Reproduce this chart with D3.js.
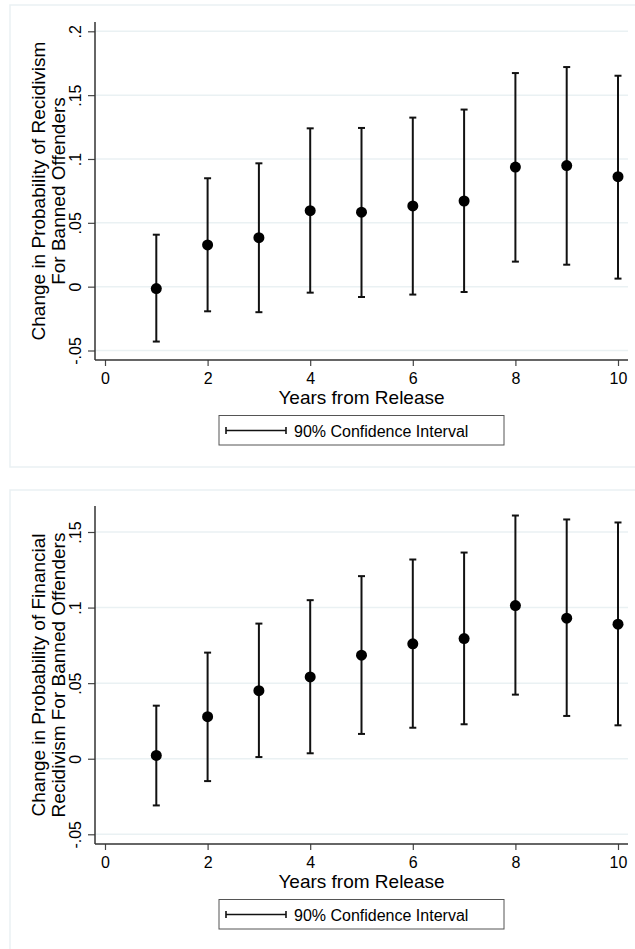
<!DOCTYPE html>
<html>
<head>
<meta charset="utf-8">
<script src="https://cdn.jsdelivr.net/npm/d3@7"></script>
<style>
  body { margin: 0; background: #fff; }
  svg text { font-family: Arial, "Liberation Sans", sans-serif; fill: #000; }
</style>
</head>
<body>
<svg id="chart" width="635" height="949"></svg>
<script>
// years from release
const years = [1, 2, 3, 4, 5, 6, 7, 8, 9, 10];
const xTicks = [0, 2, 4, 6, 8, 10];

// panel 1: any recidivism
const recidEst = [-0.0015, 0.0327, 0.0384, 0.0595, 0.0583, 0.0632, 0.0671, 0.0937, 0.0948, 0.0861];
const recidLo = [-0.043, -0.0193, -0.020, -0.0047, -0.0081, -0.0062, -0.0042, 0.0196, 0.0172, 0.0063];
const recidHi = [0.0407, 0.0849, 0.0966, 0.124, 0.1243, 0.1324, 0.1387, 0.1673, 0.172, 0.1652];
const recidTicks = [-0.05, 0, 0.05, 0.1, 0.15, 0.2];

// panel 2: financial recidivism
const finEst = [0.0022, 0.0278, 0.045, 0.0541, 0.0685, 0.076, 0.0795, 0.1013, 0.093, 0.089];
const finLo = [-0.0309, -0.0148, 0.0011, 0.0036, 0.0164, 0.0205, 0.0228, 0.0424, 0.0283, 0.0221];
const finHi = [0.0351, 0.0702, 0.0894, 0.1049, 0.1208, 0.1318, 0.1364, 0.1609, 0.1583, 0.1563];
const finTicks = [-0.05, 0, 0.05, 0.1, 0.15];

const legendLabel = "90% Confidence Interval";
const xTitle = "Years from Release";

const svg = d3.select("#chart");

// stata style labels: ".05", "-.05", "0"
const fmt = v => {
  if (Math.abs(v) < 1e-9) return "0";
  const s = String(+v.toFixed(2)).replace("0.", ".");
  return s;
};

function drawPanel(p) {
  const g = svg.append("g");
  const grid = "#eaf1f3";

  // outer panel border
  g.append("rect")
    .attr("x", 10).attr("y", p.boxTop)
    .attr("width", 640).attr("height", p.boxBottom - p.boxTop)
    .attr("fill", "#fff").attr("stroke", grid).attr("stroke-width", 1.5);

  const x = d3.scaleLinear().domain([0, 10]).range([105, 618]);
  const y = d3.scaleLinear().domain(p.yDomain).range([p.yLow, p.yHigh]);

  // gridlines
  g.append("g").selectAll("line").data(p.ticks).join("line")
    .attr("x1", 95).attr("x2", 628)
    .attr("y1", d => y(d)).attr("y2", d => y(d))
    .attr("stroke", grid).attr("stroke-width", 1.5);

  // y axis
  const yAx = g.append("g").attr("transform", "translate(95,0)")
    .call(d3.axisLeft(y).tickValues(p.ticks).tickSize(7).tickFormat(fmt))
    .attr("font-size", 16).attr("font-family", null);
  yAx.select(".domain").remove();
  yAx.selectAll(".tick line").attr("stroke", "#444").attr("stroke-width", 1.2);
  yAx.selectAll(".tick text")
    .attr("transform", "rotate(-90)")
    .attr("x", 0).attr("y", -14).attr("dy", 0)
    .attr("text-anchor", "middle")
    .style("font-size", "16px");
  g.append("line").attr("x1", 95).attr("x2", 95)
    .attr("y1", p.axTop).attr("y2", p.axBottom)
    .attr("stroke", "#333").attr("stroke-width", 1.5);

  // x axis
  const xAx = g.append("g").attr("transform", `translate(0,${p.axBottom})`)
    .call(d3.axisBottom(x).tickValues(xTicks).tickSize(6).tickPadding(0))
    .attr("font-size", 16).attr("font-family", null);
  xAx.select(".domain").remove();
  xAx.selectAll(".tick line").attr("stroke", "#444").attr("stroke-width", 1.2);
  xAx.selectAll(".tick text")
    .attr("y", 24).attr("dy", 0)
    .style("font-size", "16px");
  g.append("line").attr("x1", 95).attr("x2", 628)
    .attr("y1", p.axBottom).attr("y2", p.axBottom)
    .attr("stroke", "#333").attr("stroke-width", 1.5);

  // axis titles
  g.append("text")
    .attr("x", 361.5).attr("y", p.axBottom + 43.5)
    .attr("text-anchor", "middle").style("font-size", "19px")
    .text(xTitle);
  const cy = (p.axTop + p.axBottom) / 2;
  p.yTitle.forEach((t, i) => {
    g.append("text")
      .attr("transform", `translate(${45 + i * 19.5},${cy}) rotate(-90)`)
      .attr("text-anchor", "middle").style("font-size", "19px")
      .text(t);
  });

  // error bars
  const bars = g.append("g").attr("stroke", "#111").attr("stroke-width", 2);
  bars.selectAll(".v").data(years).join("line")
    .attr("x1", (d) => x(d)).attr("x2", (d) => x(d))
    .attr("y1", (d, i) => y(p.lo[i])).attr("y2", (d, i) => y(p.hi[i]));
  bars.selectAll(".cl").data(years).join("line").attr("class", "cl")
    .attr("x1", (d) => x(d) - 3.5).attr("x2", (d) => x(d) + 3.5)
    .attr("y1", (d, i) => y(p.lo[i])).attr("y2", (d, i) => y(p.lo[i]));
  bars.selectAll(".ch").data(years).join("line").attr("class", "ch")
    .attr("x1", (d) => x(d) - 3.5).attr("x2", (d) => x(d) + 3.5)
    .attr("y1", (d, i) => y(p.hi[i])).attr("y2", (d, i) => y(p.hi[i]));

  // point estimates
  g.append("g").selectAll("circle").data(years).join("circle")
    .attr("cx", (d) => x(d)).attr("cy", (d, i) => y(p.est[i]))
    .attr("r", 5.5).attr("fill", "#000");

  // legend
  const lg = g.append("g").attr("transform", `translate(219,${p.legTop})`);
  lg.append("rect").attr("width", 285).attr("height", 29.5)
    .attr("fill", "#fff").attr("stroke", "#555").attr("stroke-width", 1);
  const ly = 15;
  lg.append("line").attr("x1", 7).attr("x2", 67).attr("y1", ly).attr("y2", ly)
    .attr("stroke", "#111").attr("stroke-width", 1.6);
  [7, 67].forEach(cx => lg.append("line")
    .attr("x1", cx).attr("x2", cx).attr("y1", ly - 3.5).attr("y2", ly + 3.5)
    .attr("stroke", "#111").attr("stroke-width", 1.6));
  lg.append("text").attr("x", 75).attr("y", ly + 6)
    .style("font-size", "16px").text(legendLabel);
}

drawPanel({
  boxTop: 5, boxBottom: 467,
  yDomain: [-0.05, 0.2], yLow: 350.5, yHigh: 31.3,
  axTop: 22, axBottom: 360,
  ticks: recidTicks,
  est: recidEst, lo: recidLo, hi: recidHi,
  yTitle: ["Change in Probability of Recidivism", "For Banned Offenders"],
  legTop: 415.5
});

drawPanel({
  boxTop: 490, boxBottom: 970,
  yDomain: [-0.05, 0.15], yLow: 834.3, yHigh: 532,
  axTop: 506, axBottom: 844,
  ticks: finTicks,
  est: finEst, lo: finLo, hi: finHi,
  yTitle: ["Change in Probability of Financial", "Recidivism For Banned Offenders"],
  legTop: 899.5
});
</script>
</body>
</html>
